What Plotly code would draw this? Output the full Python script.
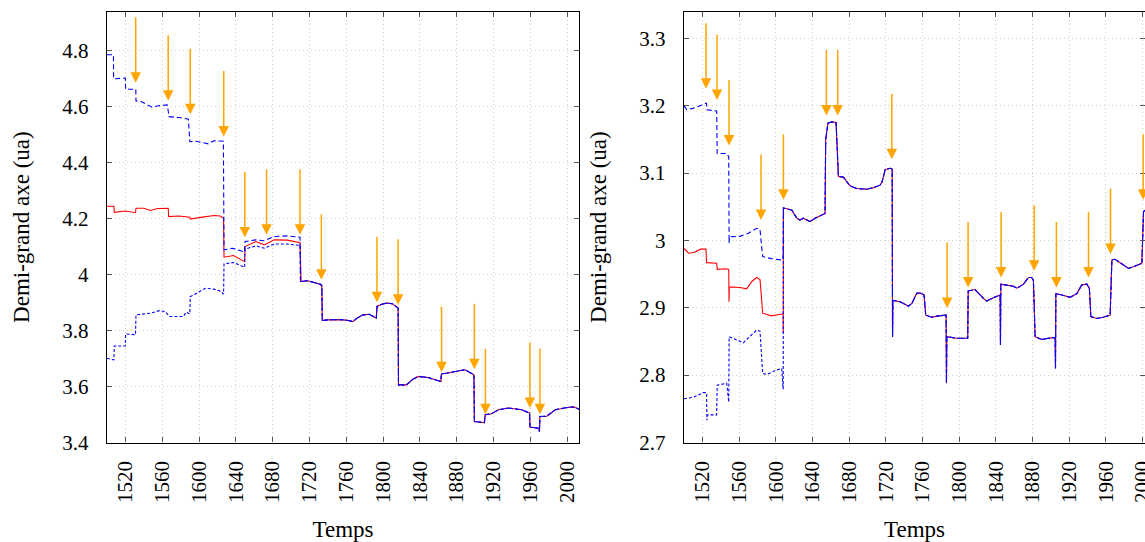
import plotly.graph_objects as go

# ---------------- data: left panel ----------------
left_red_t = [1500, 1507.5, 1508, 1520, 1531, 1531.5, 1540, 1547.2, 1555, 1566.5, 1567, 1578, 1590, 1590.5,
              1603.6, 1616.3, 1623, 1626.7, 1627.2, 1637.5, 1649.6, 1650, 1661.8, 1670.9, 1681.7, 1696, 1709.8]
left_red_v = [4.244, 4.244, 4.222, 4.227, 4.221, 4.237, 4.237, 4.229, 4.236, 4.237, 4.207, 4.209, 4.205, 4.198,
              4.205, 4.211, 4.209, 4.201, 4.062, 4.068, 4.046, 4.100, 4.118, 4.106, 4.124, 4.123, 4.114]

left_up_t = [1500, 1507, 1507.2, 1520, 1520.2, 1531.3, 1531.5, 1537, 1549, 1556, 1565.5, 1567.5, 1580, 1588.5,
             1590, 1597, 1610, 1616, 1626.5, 1627.2, 1636.4, 1647.3, 1649.6, 1650, 1661.8, 1670.9, 1681.7, 1696, 1709.8]
left_up_v = [4.785, 4.785, 4.699, 4.702, 4.662, 4.662, 4.620, 4.618, 4.598, 4.603, 4.606, 4.564, 4.560, 4.555,
             4.475, 4.476, 4.467, 4.478, 4.476, 4.088, 4.094, 4.082, 4.080, 4.118, 4.124, 4.121, 4.136, 4.138, 4.133]

left_low_t = [1500, 1507.5, 1508, 1519.8, 1520.2, 1531, 1531.5, 1547, 1557, 1563, 1568, 1583, 1586, 1590,
              1590.5, 1598, 1607, 1616, 1624, 1626.7, 1627.2, 1637.5, 1649.6, 1650, 1661.8, 1670.9, 1681.7, 1696, 1709.8]
left_low_v = [3.701, 3.695, 3.745, 3.745, 3.788, 3.785, 3.856, 3.862, 3.871, 3.868, 3.850, 3.850, 3.866, 3.860,
              3.921, 3.934, 3.951, 3.948, 3.940, 3.930, 4.038, 4.043, 4.026, 4.091, 4.102, 4.094, 4.109, 4.109, 4.104]

left_common_t = [1710.3, 1711, 1718, 1724, 1732, 1733.5, 1734, 1740, 1754.5, 1762, 1767.3, 1772, 1778.2, 1785,
                 1792.7, 1793.5, 1798, 1803.6, 1810, 1816.4, 1816.8, 1825.4, 1832, 1838.2, 1849, 1862.8, 1863.5,
                 1870, 1878, 1889, 1898.8, 1899.3, 1910.2, 1911, 1918, 1925.5, 1936.4, 1950.9, 1959.3, 1959.8,
                 1969.1, 1970, 1970.5, 1978, 1987.2, 2001.8, 2008, 2014]
left_common_v = [3.975, 3.975, 3.978, 3.973, 3.965, 3.960, 3.836, 3.838, 3.839, 3.836, 3.832, 3.845, 3.856, 3.858,
                 3.844, 3.886, 3.893, 3.898, 3.896, 3.880, 3.606, 3.606, 3.625, 3.636, 3.632, 3.618, 3.645,
                 3.648, 3.652, 3.660, 3.642, 3.475, 3.471, 3.499, 3.503, 3.517, 3.523, 3.517, 3.505, 3.455,
                 3.451, 3.439, 3.493, 3.494, 3.517, 3.526, 3.527, 3.517]

left_arrow_t = [1531.2, 1566.5, 1590.5, 1626.9, 1649.8, 1673.4, 1709.8, 1733.0, 1793.4, 1816.4, 1863.6,
                1899.3, 1911.3, 1959.6, 1970.5]
left_arrow_v = [4.685, 4.621, 4.573, 4.493, 4.132, 4.142, 4.142, 3.981, 3.901, 3.892, 3.651,
                3.662, 3.501, 3.523, 3.501]

# ---------------- data: right panel ----------------
right_red_t = [1500, 1505, 1511, 1518, 1524, 1524.6, 1535.6, 1536.2, 1546, 1548.8, 1549.1, 1549.4, 1561, 1568.4,
               1573.9, 1579.3, 1582.9, 1585.8, 1595, 1606.6, 1608, 1608.2]
right_red_v = [2.988, 2.981, 2.982, 2.987, 2.987, 2.967, 2.966, 2.957, 2.958, 2.957, 2.909, 2.931, 2.930, 2.928,
               2.939, 2.945, 2.942, 2.892, 2.888, 2.891, 2.891, 2.862]

right_up_t = [1500, 1503, 1510, 1519.2, 1524.5, 1525, 1535.6, 1536.2, 1546.6, 1548.8, 1549.2, 1549.6, 1561,
              1570.2, 1579.3, 1582.9, 1585.8, 1595, 1606.6, 1608]
right_up_v = [3.200, 3.194, 3.196, 3.2012, 3.2037, 3.194, 3.192, 3.129, 3.129, 3.124, 2.996, 3.0055, 3.006,
              3.0106, 3.018, 3.016, 2.976, 2.973, 2.971, 2.971]

right_low_t = [1500, 1510, 1521, 1524.6, 1525, 1525.4, 1535.6, 1536.2, 1546.6, 1548.8, 1549.2, 1556, 1564.6,
               1579.3, 1582.9, 1585.8, 1590.5, 1599.6, 1606.6, 1608, 1608.2]
right_low_v = [2.765, 2.767, 2.774, 2.774, 2.733, 2.741, 2.741, 2.785, 2.788, 2.760, 2.857, 2.853, 2.848,
               2.867, 2.865, 2.8025, 2.801, 2.807, 2.810, 2.780, 2.780]

right_common_t = [1608.4, 1612, 1617.5, 1623, 1626.5, 1630, 1637.5, 1643, 1648.4, 1653.8, 1654.5, 1657, 1661.1,
                  1665.8, 1668.4, 1673.8, 1681, 1688.4, 1699.3, 1706, 1713.8, 1716, 1719.3, 1724.7, 1727,
                  1727.4, 1727.8, 1735.6, 1744.7, 1748.3, 1753.8, 1757.5, 1761.8, 1763.6, 1770.2, 1777.5,
                  1785.8, 1786.2, 1786.6, 1799.3, 1809.4, 1809.9, 1817.4, 1826.5, 1830, 1839.3, 1844.7,
                  1845.1, 1845.5, 1859.2, 1863, 1870.2, 1875.6, 1879, 1881, 1882.9, 1890.1, 1899.2, 1904.7,
                  1905.1, 1905.5, 1912, 1921.1, 1928.4, 1933.8, 1939.3, 1942, 1943.7, 1950.2, 1957, 1964.7,
                  1966.6, 1970, 1979.2, 1984.7, 1990, 1999.3, 2001.1, 2003]
right_common_v = [3.048, 3.047, 3.045, 3.033, 3.030, 3.033, 3.028, 3.033, 3.036, 3.040, 3.150, 3.174, 3.176,
                  3.175, 3.095, 3.094, 3.081, 3.077, 3.076, 3.078, 3.082, 3.087, 3.105, 3.107, 3.106,
                  2.857, 2.911, 2.909, 2.9025, 2.906, 2.9214, 2.922, 2.919, 2.889, 2.886, 2.888,
                  2.889, 2.788, 2.857, 2.8545, 2.855, 2.925, 2.927, 2.914, 2.910, 2.916, 2.919,
                  2.845, 2.935, 2.932, 2.929, 2.935, 2.945, 2.945, 2.941, 2.857, 2.853, 2.855, 2.856,
                  2.810, 2.921, 2.919, 2.9155, 2.921, 2.934, 2.935, 2.929, 2.887, 2.884, 2.886, 2.889,
                  2.971, 2.972, 2.9635, 2.9585, 2.961, 2.966, 3.043, 3.045]

right_arrow_t = [1524.0, 1536.0, 1549.1, 1584.0, 1608.4, 1655.3, 1667.6, 1726.6, 1786.9, 1809.8, 1845.8,
                 1881.8, 1906.1, 1941.1, 1965.1, 2000.7]
right_arrow_v = [3.225, 3.2086, 3.1407, 3.0303, 3.0605, 3.1853, 3.1853, 3.1205, 2.8996, 2.930, 2.945,
                 2.955, 2.930, 2.945, 2.980, 3.0605]

x_ticks = [1520, 1560, 1600, 1640, 1680, 1720, 1760, 1800, 1840, 1880, 1920, 1960, 2000]
left_y_ticks = [3.4, 3.6, 3.8, 4.0, 4.2, 4.4, 4.6, 4.8]
left_y_text = ["3.4", "3.6", "3.8", "4", "4.2", "4.4", "4.6", "4.8"]
right_y_ticks = [2.7, 2.8, 2.9, 3.0, 3.1, 3.2, 3.3]
right_y_text = ["2.7", "2.8", "2.9", "3", "3.1", "3.2", "3.3"]

x_title = "Temps"
y_title = "Demi-grand axe (ua)"

# ---------------- figure ----------------
W, H = 1145, 542
FONT = "Liberation Serif, DejaVu Serif, serif"
FS = 21
TFS = 23
RED, BLUE, ORANGE = "#ff0000", "#0000ff", "#ffa500"

fig = go.Figure()

def add_panel(xa, ya, red_t, red_v, up_t, up_v, low_t, low_v, com_t, com_v):
    fig.add_trace(go.Scatter(x=red_t + com_t, y=red_v + com_v, mode="lines", xaxis=xa, yaxis=ya,
                             line=dict(color=RED, width=1.1), showlegend=False))
    fig.add_trace(go.Scatter(x=up_t + com_t, y=up_v + com_v, mode="lines", xaxis=xa, yaxis=ya,
                             line=dict(color=BLUE, width=1.1, dash="5px,3px"), showlegend=False))
    fig.add_trace(go.Scatter(x=low_t + com_t, y=low_v + com_v, mode="lines", xaxis=xa, yaxis=ya,
                             line=dict(color=BLUE, width=1.1, dash="3px,2px"), showlegend=False))

add_panel("x", "y", left_red_t, left_red_v, left_up_t, left_up_v, left_low_t, left_low_v,
          left_common_t, left_common_v)
add_panel("x2", "y2", right_red_t, right_red_v, right_up_t, right_up_v, right_low_t, right_low_v,
          right_common_t, right_common_v)

annotations = []
for xr, yr, ts, vs in (("x", "y", left_arrow_t, left_arrow_v), ("x2", "y2", right_arrow_t, right_arrow_v)):
    for t, v in zip(ts, vs):
        annotations.append(dict(x=t, y=v, xref=xr, yref=yr, ax=0, ay=-67, text="", showarrow=True,
                                arrowhead=2, arrowsize=1.4, arrowwidth=1.5, arrowcolor=ORANGE))

tfont = dict(family=FONT, size=FS, color="black")
titlefont = dict(family=FONT, size=TFS, color="black")
axis_common = dict(showline=True, linecolor="black", linewidth=1.4, mirror="allticks",
                   ticks="inside", ticklen=5, tickcolor="#555555", tickwidth=1, automargin=False,
                   showgrid=True, gridcolor="#cfcfcf", griddash="1px,3px", gridwidth=1, zeroline=False,
                   tickfont=tfont, ticklabeloverflow="allow")

xdom1 = [107 / W, 579 / W]
xdom2 = [684 / W, 1.0]
ydom = [1 - 442.5 / H, 1 - 11.7 / H]

xa = dict(axis_common, tickvals=x_ticks, ticktext=[str(v) for v in x_ticks], tickangle=-90,
          ticklabelstandoff=9, title=dict(text=x_title, font=titlefont, standoff=19))
ya = dict(axis_common, ticklabelstandoff=13, title=dict(text=y_title, font=titlefont, standoff=26))
fig.update_layout(
    width=W, height=H, margin=dict(l=0, r=0, t=0, b=0),
    plot_bgcolor="white", paper_bgcolor="white",
    font=dict(family=FONT, size=FS, color="black"),
    xaxis=dict(xa, domain=xdom1, range=[1500, 2013], anchor="y"),
    xaxis2=dict(xa, domain=xdom2, range=[1500, 2002.7], anchor="y2"),
    yaxis=dict(ya, domain=ydom, range=[3.4, 4.939], anchor="x", tickvals=left_y_ticks, ticktext=left_y_text),
    yaxis2=dict(ya, domain=ydom, range=[2.7, 3.3395], anchor="x2", tickvals=right_y_ticks, ticktext=right_y_text),
    annotations=annotations,
)

fig.write_html("out.html", config={"displayModeBar": False},
               post_script="document.body.style.margin='0';document.body.style.overflow='hidden';")
